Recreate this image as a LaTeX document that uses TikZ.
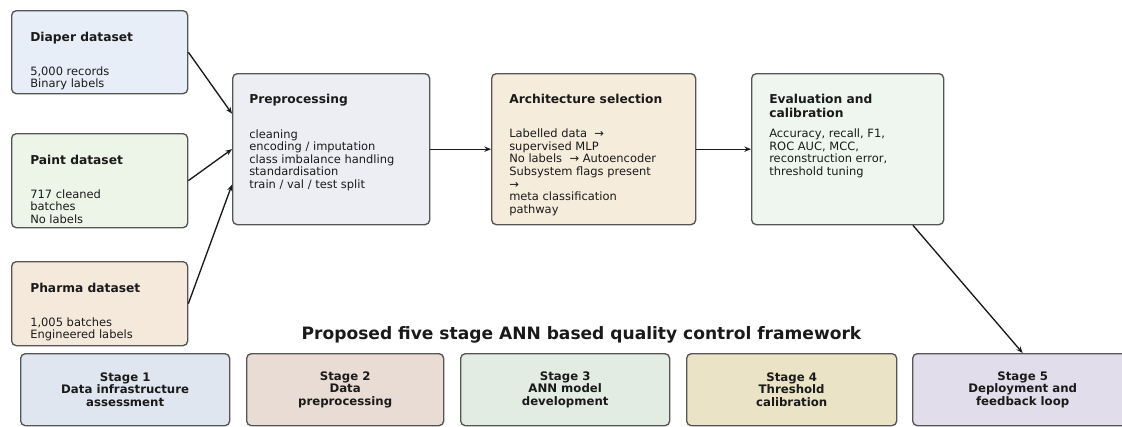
\documentclass[tikz,border=0pt]{standalone}
\usepackage{fontspec}
\setmainfont{DejaVu Sans}
\usetikzlibrary{arrows.meta}
\definecolor{cdiaper}{HTML}{E7EEF8}
\definecolor{cpaint}{HTML}{EDF4E8}
\definecolor{cpharma}{HTML}{F5E9DC}
\definecolor{cpre}{HTML}{EDEEF4}
\definecolor{carch}{HTML}{F5ECDC}
\definecolor{ceval}{HTML}{EEF6EF}
\definecolor{csa}{HTML}{DFE6F0}
\definecolor{csb}{HTML}{E8DCD4}
\definecolor{csc}{HTML}{E2ECE2}
\definecolor{csd}{HTML}{EBE3C6}
\definecolor{cse}{HTML}{E2DDEA}
\definecolor{cborder}{HTML}{555555}
\definecolor{ctext}{HTML}{1A1A1A}
\tikzset{
  box/.style={draw=cborder, line width=1pt, rounded corners=3.5pt, anchor=north west, inner sep=0pt},
  stagebox/.style={draw=cborder, line width=1pt, rounded corners=3.5pt, anchor=north west, inner sep=0pt, minimum height=54pt, align=center, text=ctext, font=\bfseries\fontsize{8.8}{9.4}\selectfont},
  head/.style={anchor=base west, inner sep=0pt, text=ctext, font=\bfseries\fontsize{9.2}{10.5}\selectfont},
  body/.style={anchor=base west, inner sep=0pt, text=ctext, font=\fontsize{8.6}{9.45}\selectfont},
  arr/.style={draw=black!90, line width=1pt, -{Stealth[length=5pt, width=4pt]}},
}
\begin{document}
\begin{tikzpicture}[x=0.75pt, y=-0.75pt]
\clip (0,0) rectangle (1122,426);
\fill[white] (0,0) rectangle (1122,426);
% input boxes
\node[box, fill=cdiaper, minimum width=132pt, minimum height=62.25pt] (diaper) at (11,10) {};
\node[box, fill=cpaint, minimum width=132pt, minimum height=70.5pt] (paint) at (11,133) {};
\node[box, fill=cpharma, minimum width=132pt, minimum height=63pt] (pharma) at (11,261) {};
\node[box, fill=cpre, minimum width=147.75pt, minimum height=113.25pt] (pre) at (232,73) {};
\node[box, fill=carch, minimum width=153pt, minimum height=113.25pt] (arch) at (491,73) {};
\node[box, fill=ceval, minimum width=144pt, minimum height=113.25pt] (eval) at (751,73) {};
% texts
\node[head] (diaperH) at (30,41) {Diaper dataset};
\node[body] (diaperB) at (30,75) {\vtop{\hbox{5,000 records}\hbox{Binary labels}}};
\node[head] (paintH) at (30,164) {Paint dataset};
\node[body] (paintB) at (30,198) {\vtop{\hbox{717 cleaned}\hbox{batches}\hbox{No labels}}};
\node[head] (pharmaH) at (30,292) {Pharma dataset};
\node[body] (pharmaB) at (30,326) {\vtop{\hbox{1,005 batches}\hbox{Engineered labels}}};
\node[head] (preH) at (249,103.3) {Preprocessing};
\node[body] (preB) at (249,138) {\vtop{\hbox{cleaning}\hbox{encoding / imputation}\hbox{class imbalance handling}\hbox{standardisation}\hbox{train / val / test split}}};
\node[head] (archH) at (509,103.3) {Architecture selection};
\node[body] (archB) at (509,137.7) {\vtop{\hbox{Labelled data\ \ →}\hbox{supervised MLP}\hbox{No labels\ \ → Autoencoder}\hbox{Subsystem flags present}\hbox{→}\hbox{meta classification}\hbox{pathway}}};
\node[head] (evalH) at (769,103.3) {\vtop{\hbox{Evaluation and}\hbox{calibration}}};
\node[body] (evalB) at (769,137.7) {\vtop{\hbox{Accuracy, recall, F1,}\hbox{ROC AUC, MCC,}\hbox{reconstruction error,}\hbox{threshold tuning}}};
% title
\node[anchor=base, inner sep=0pt, text=ctext, font=\bfseries\fontsize{12.8}{14}\selectfont] (title) at (581.5,339.3) {Proposed five stage ANN based quality control framework};
% stages
\node[stagebox, fill=csa, minimum width=156.75pt] (s1) at (20,353) {Stage 1\\Data infrastructure\\assessment};
\node[stagebox, fill=csb, minimum width=147.75pt] (s2) at (246,353) {Stage 2\\Data\\preprocessing};
\node[stagebox, fill=csc, minimum width=156.75pt] (s3) at (460,353) {Stage 3\\ANN model\\development};
\node[stagebox, fill=csd, minimum width=157.5pt] (s4) at (686,353) {Stage 4\\Threshold\\calibration};
\node[stagebox, fill=cse, minimum width=165pt] (s5) at (912,353) {Stage 5\\Deployment and\\feedback loop};
% connectors
\draw[arr] (diaper.east) -- ([yshift=26.6pt]pre.west);
\draw[arr] (paint.east) -- (pre.west);
\draw[arr] (pharma.east) -- ([yshift=-26.6pt]pre.west);
\draw[arr] (pre.east) -- (arch.west);
\draw[arr] (arch.east) -- (eval.west);
\draw[arr] (eval) -- (s5.north);
\end{tikzpicture}
\end{document}
